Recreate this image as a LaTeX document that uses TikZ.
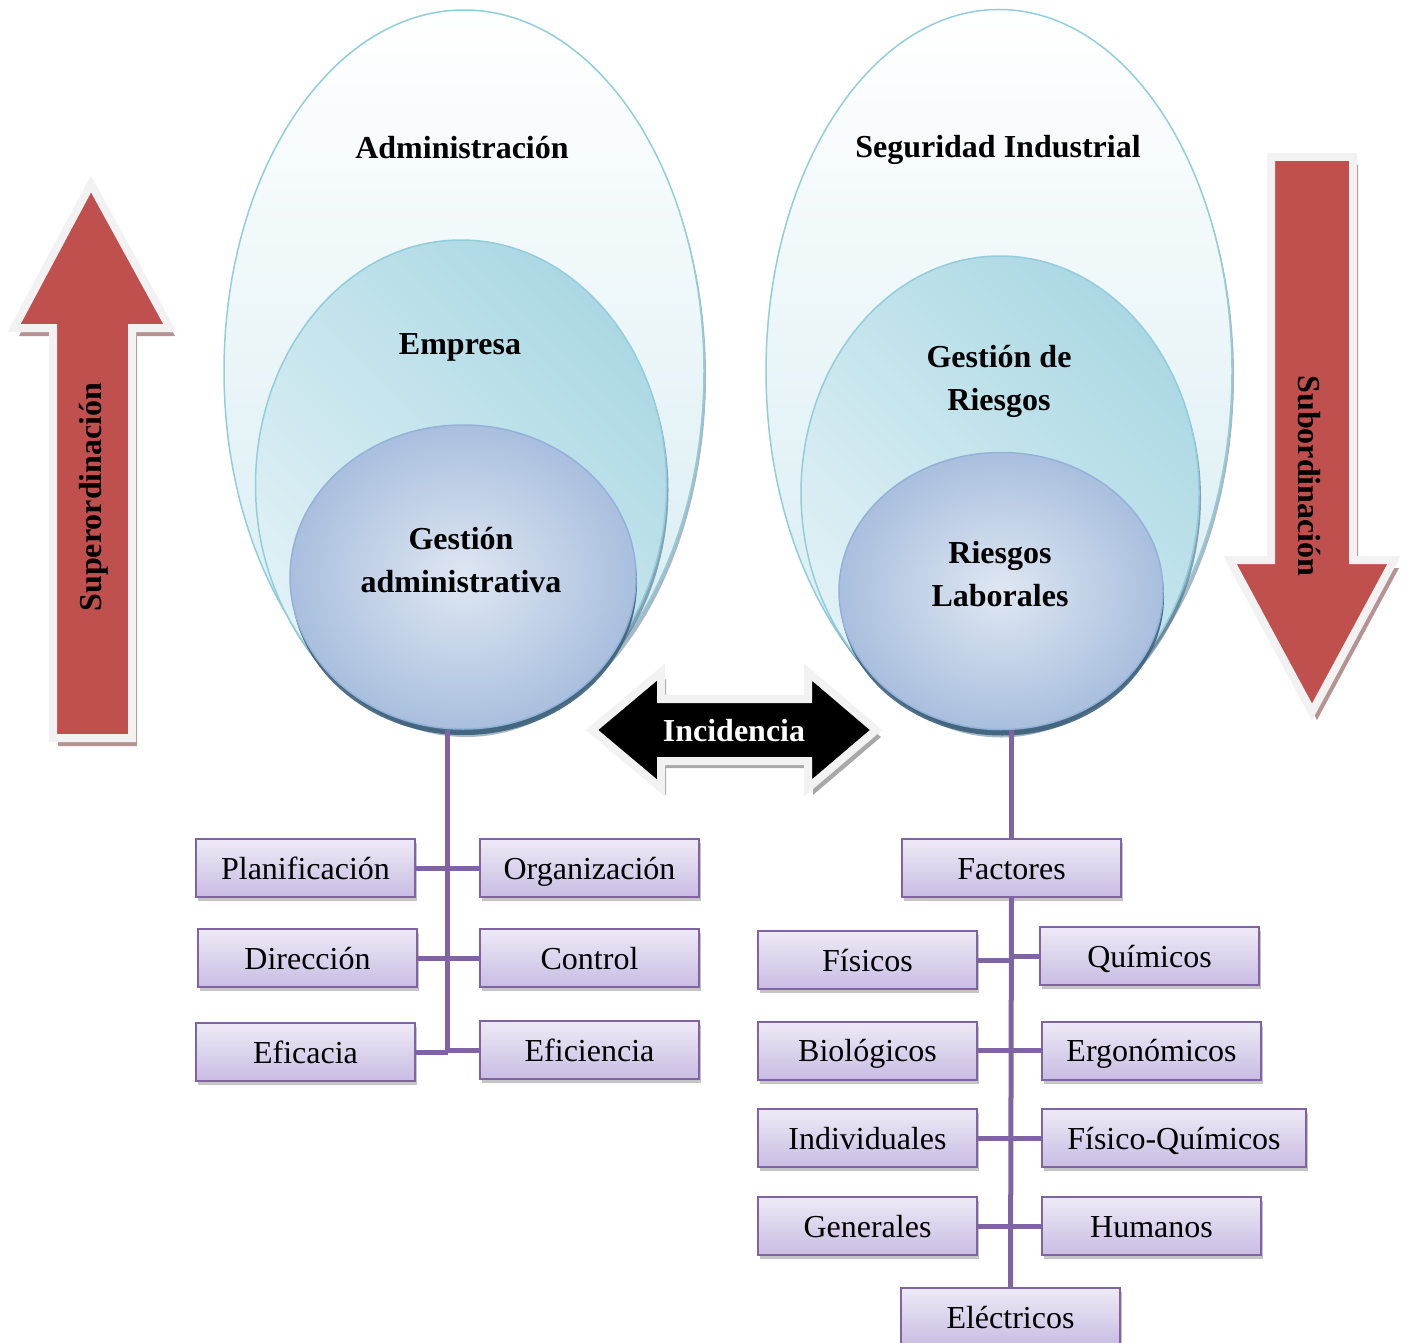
\documentclass[tikz,border=0pt]{standalone}
\usepackage{fontspec}
\setmainfont{Liberation Serif}
\usetikzlibrary{shapes.geometric,shadows,calc}
\definecolor{arrowred}{HTML}{C0504D}
\definecolor{rim}{HTML}{F2F2F2}
\definecolor{redshade}{HTML}{B59392}
\definecolor{greyshade}{HTML}{A8A8A8}
\definecolor{boxline}{HTML}{8064A2}
\definecolor{boxtop}{HTML}{EEEAF6}
\definecolor{boxbot}{HTML}{C9BCE3}
\definecolor{outerline}{HTML}{92CDDC}
\definecolor{outerbot}{HTML}{D4EBF1}
\definecolor{midlight}{HTML}{E2F2F6}
\definecolor{middark}{HTML}{ABD8E4}
\definecolor{innerline}{HTML}{94B2D9}
\definecolor{innerlight}{HTML}{DFE7F2}
\definecolor{innerdark}{HTML}{A9BFDE}
\definecolor{ellshade}{HTML}{3F627C}

\begin{document}
\begin{tikzpicture}[x=1pt, y=-1pt]
	\tikzstyle{oval}=[ellipse, inner sep=0pt, line width=1.5pt]
	\tikzstyle{outer}=[oval, draw=outerline, top color=white, bottom color=outerbot, drop shadow={shadow xshift=2pt, shadow yshift=-5pt, fill=ellshade, opacity=.45}]
	\tikzstyle{middle}=[oval, draw=outerline, left color=midlight, right color=middark, shading angle=135, drop shadow={shadow xshift=2pt, shadow yshift=-5pt, fill=ellshade, opacity=.55}]
	\tikzstyle{inner}=[oval, draw=innerline, inner color=innerlight, outer color=innerdark, drop shadow={shadow xshift=1pt, shadow yshift=-6pt, fill=ellshade, opacity=.9}]
	\tikzstyle{title}=[font=\bfseries\fontsize{32}{43}\selectfont, align=center]
	\tikzstyle{bigarrow}=[fill=arrowred, draw=rim, line width=8pt, drop shadow={shadow xshift=5pt, shadow yshift=-8pt, fill=redshade, opacity=1}]
	\tikzstyle{blackarrow}=[fill=black, draw=rim, line width=8pt, drop shadow={shadow xshift=5pt, shadow yshift=-7pt, fill=greyshade, opacity=1}]
	\tikzstyle{factor}=[rectangle, draw=boxline, line width=2pt, top color=boxtop, bottom color=boxbot, minimum width=219pt, minimum height=58pt, inner sep=0pt, text height=25pt, text depth=3pt, font=\fontsize{32}{36}\selectfont, drop shadow={shadow xshift=2pt, shadow yshift=-4pt, fill=black!45, opacity=.5}]
	\tikzstyle{link}=[draw=boxline, line width=5pt]
	\useasboundingbox (0,0) rectangle (1408,1343);

	\node[outer, minimum width=480pt, minimum height=722pt] (adm) at (464,371) {};
	\node[middle, minimum width=411pt, minimum height=490pt] (emp) at (461,485) {};
	\node[inner, minimum width=346pt, minimum height=304pt] (gadm) at (463,577) {};
	\node[title] (admtxt) at (462,148) {Administración};
	\node[title] (emptxt) at (460,347) {Empresa};
	\node[title] (gadmtxt) at (461,560) {Gestión\\administrativa};

	\node[outer, minimum width=466pt, minimum height=723pt] (segind) at (999,371) {};
	\node[middle, minimum width=398pt, minimum height=474pt] (gries) at (1000,493) {};
	\node[inner, minimum width=324pt, minimum height=277pt] (rlab) at (1001,591) {};
	\node[title] (segindtxt) at (998,150) {Seguridad Industrial};
	\node[title] (griestxt) at (999,381) {Gestión de\\Riesgos};
	\node[title] (rlabtxt) at (1000,574) {Riesgos\\Laborales};

	\draw[bigarrow] (91,184) -- (170,328) -- (132,328) -- (132,738) -- (53,738) -- (53,328) -- (14,328) -- cycle;
	\node[title, rotate=90] (superord) at (94,497) {Superordinación};
	\draw[bigarrow] (1271,157) -- (1353,157) -- (1353,560) -- (1394,560) -- (1312,712) -- (1230,560) -- (1271,560) -- cycle;
	\node[title, rotate=-90] (subord) at (1309,476) {Subordinación};
	\draw[blackarrow] (592,730) -- (661,672) -- (661,699) -- (808,699) -- (808,672) -- (876,730) -- (808,788) -- (808,761) -- (661,761) -- (661,788) -- cycle;
	\node[title, text=white] (incid) at (734,731) {Incidencia};

	\node[factor] (plan) at (305.5,868) {Planificación};
	\node[factor] (org) at (589.5,868) {Organización};
	\node[factor] (dir) at (307.5,958) {Dirección};
	\node[factor] (ctrl) at (589.5,958) {Control};
	\node[factor] (eficac) at (305.5,1052) {Eficacia};
	\node[factor] (eficien) at (589.5,1050) {Eficiencia};

	\node[factor] (fact) at (1011.5,868) {Factores};
	\node[factor] (fis) at (867.5,960) {Físicos};
	\node[factor] (quim) at (1149.5,956) {Químicos};
	\node[factor] (bio) at (867.5,1050.5) {Biológicos};
	\node[factor] (ergo) at (1151.5,1050.5) {Ergonómicos};
	\node[factor] (indiv) at (867.5,1138) {Individuales};
	\node[factor, minimum width=264pt] (fisquim) at (1174,1138) {Físico-Químicos};
	\node[factor] (gen) at (867.5,1226) {Generales};
	\node[factor] (hum) at (1151.5,1226) {Humanos};
	\node[factor] (elec) at (1010.5,1317) {Eléctricos};

	\coordinate (ltrunk) at ($(plan.east)!.5!(org.west)$);
	\draw[link] (ltrunk |- gadm.south) -- (ltrunk |- eficac.east);
	\foreach \a/\b in {plan/org, dir/ctrl, eficac/eficien}{
		\draw[link] (\a.east) -- (\a.east -| ltrunk);
		\draw[link] (\b.west) -- (\b.west -| ltrunk);
	}

	\draw[link] (fact.north |- rlab.south) -- (fact.north);
	\draw[link] (fact.south) -- (elec.north);
	\foreach \a/\b in {fis/quim, bio/ergo, indiv/fisquim, gen/hum}{
		\draw[link] (\a.east) -- (\a.east -| fact.south);
		\draw[link] (\b.west) -- (\b.west -| fact.south);
	}
\end{tikzpicture}
\end{document}
